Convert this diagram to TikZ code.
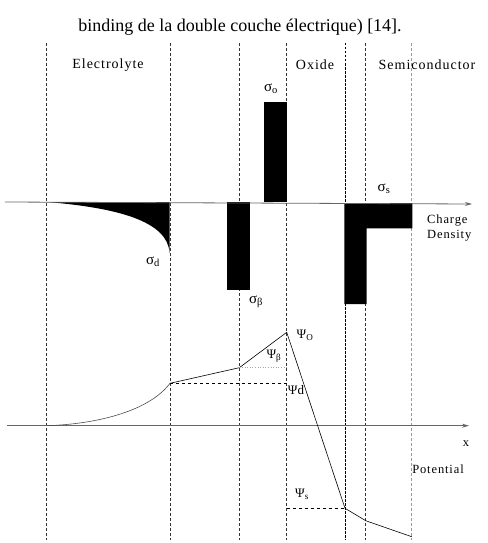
\documentclass[tikz,border=0pt]{standalone}
\usepackage{fontspec}
\setmainfont{Liberation Serif}
\newfontfamily\lbl[LetterSpace=7]{Liberation Serif}
\usetikzlibrary{arrows.meta}
\begin{document}
\begin{tikzpicture}[x=1pt,y=-1pt,
  vline/.style={dash pattern=on 3pt off 2pt, line width=0.6pt, black!80},
  vheavy/.style={dash pattern=on 2.5pt off 1.5pt, line width=0.9pt, black},
  vlight/.style={dash pattern=on 3pt off 2pt, line width=0.6pt, black!40},
  axisline/.style={line width=0.8pt, black!60, -{Stealth[length=7pt,width=4pt]}},
  curve/.style={line width=0.6pt, black},
  bar/.style={fill=black, draw=none},
  region/.style={font=\lbl\fontsize{14}{16}\selectfont, inner sep=0pt},
  sig/.style={font=\fontsize{15}{17}\selectfont, inner sep=0pt},
  psi/.style={font=\fontsize{13}{15}\selectfont, inner sep=0pt},
  side/.style={font=\lbl\fontsize{12.5}{15}\selectfont, inner sep=0pt, align=left},
  caption/.style={font=\fontsize{18}{22}\selectfont, inner sep=0pt}]
\useasboundingbox (0,0) rectangle (487,543);
\fill[white] (0,0) rectangle (487,543);

\node[caption] (cap) at (240,27) {binding de la double couche électrique) [14].};

% vertical boundaries
\coordinate (v1t) at (46.7,43);  \coordinate (v1b) at (46.7,540);
\coordinate (v2t) at (170,43);   \coordinate (v2b) at (170,540);
\coordinate (v3t) at (239.3,43); \coordinate (v3b) at (239.3,540);
\coordinate (v4t) at (286.7,43); \coordinate (v4b) at (286.7,540);
\coordinate (v5t) at (345,43);   \coordinate (v5b) at (345,540);
\coordinate (v6t) at (365.7,43); \coordinate (v6b) at (365.7,540);
\coordinate (v7t) at (411.7,43); \coordinate (v7b) at (411.7,540);
\draw[vline] (v1t) -- (v1b);
\draw[vline] (v2t) -- (v2b);
\draw[vline] (v3t) -- (v3b);
\draw[vline] (v4t) -- (v4b);
\draw[vheavy] (v5t) -- (v5b);
\draw[vline] (v6t) -- (v6b);
\draw[vlight] (v7t) -- (v7b);

% region labels
\node[region] (el) at (108,65) {Electrolyte};
\node[region] (ox) at (315,65) {Oxide};
\node[region] (sc) at (427,65) {Semiconductor};

% charge density
\fill[bar] (47,202) .. controls (120,208) and (168,222) .. (169.5,253) -- (169.5,202) -- cycle;
\fill[bar] (264,102) rectangle (286.7,202);
\fill[bar] (227,202) rectangle (250.3,290);
\fill[bar] (344.3,203) -- (412.3,203) -- (412.3,228.3) -- (366.7,228.3) -- (366.7,304) -- (344.3,304) -- cycle;
\coordinate (ca0) at (5,202);
\coordinate (ca1) at (472,204);
\draw[axisline] (ca0) -- (ca1);

\node[sig] (so) at (271,89) {σ\textsubscript{o}};
\node[sig] (sd) at (153,262) {σ\textsubscript{d}};
\node[sig] (sb) at (256,302) {σ\textsubscript{β}};
\node[sig] (ss) at (384,189) {σ\textsubscript{s}};
\node[side, anchor=west] (cd) at (427,228) {Charge\\Density};

% potential
\coordinate (pa0) at (7,425.7);
\coordinate (pa1) at (469,425.7);
\draw[axisline] (pa0) -- (pa1);
\coordinate (p0) at (46.7,425.7);
\coordinate (p1) at (170,383.3);
\coordinate (p2) at (239.3,367.7);
\coordinate (p3) at (286.7,332.3);
\coordinate (p4) at (345,508.3);
\coordinate (p5) at (365.7,520.7);
\coordinate (p6) at (411.7,536.7);
\draw[curve, black!70] (p0) .. controls (100,424) and (150,410) .. (p1);
\draw[curve] (p1) -- (p2) -- (p3) -- (p4) -- (p5) -- (p6);
\coordinate (pd) at (286.7,383.3);
\coordinate (pb) at (286.7,367.7);
\coordinate (ps) at (286.7,508.3);
\draw[dashed, line width=0.6pt] (p1) -- (pd);
\draw[dotted, line width=0.6pt, black!35] (p2) -- (pb);
\draw[dashed, line width=0.6pt] (ps) -- (p4);

\node[psi] (yo) at (305,335) {Ψ\textsubscript{O}};
\node[psi] (yb) at (274,356) {Ψ\textsubscript{β}};
\node[psi] (yd) at (296,390) {Ψd};
\node[psi] (ys) at (302,494) {Ψ\textsubscript{s}};
\node[side] (xl) at (466,444) {x};
\node[side] (pot) at (438,469) {Potential};
\end{tikzpicture}
\end{document}
